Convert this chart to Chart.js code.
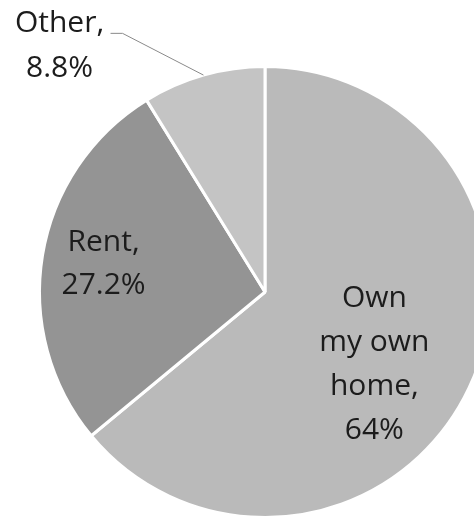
<!DOCTYPE html>
<html>
<head>
<meta charset="utf-8">
<script src="https://cdn.jsdelivr.net/npm/chart.js@4.4.1/dist/chart.umd.min.js"></script>
<style>
  html, body { margin: 0; padding: 0; background: #fff; overflow: hidden; }
  body { width: 474px; height: 516px; position: relative; }
  #pie { position: absolute; left: 0; top: 0; }
</style>
</head>
<body>
<canvas id="pie" width="530" height="560"></canvas>
<script>
const categories = ['Own my own home', 'Rent', 'Other'];
const shares     = [64, 27.2, 8.8];
const labelLines = [['Own', 'my own', 'home,', '64%'], ['Rent,', '27.2%'], ['Other,', '8.8%']];

const SLICE_COLORS = ['#bababa', '#949494', '#c4c4c4'];
const TEXT = '#1c1c1c';
const FONT = "30px 'Open Sans', sans-serif";

// label placement, as fractions of the outer radius from the pie centre
const LABEL_POS = [
    { dx: 0.485, dy: 0.067, lh: 44 },
    { dx: -0.716, dy: -0.182, lh: 43 },
    { dx: -0.911, dy: -1.151, lh: 45 }
];

const sliceLabels = {
    id: 'sliceLabels',
    afterDatasetsDraw(chart) {
        const ctx = chart.ctx;
        const arcs = chart.getDatasetMeta(0).data;
        ctx.save();
        ctx.font = FONT;
        ctx.fillStyle = TEXT;
        ctx.textAlign = 'center';
        ctx.textBaseline = 'alphabetic';
        arcs.forEach((arc, i) => {
            const p = LABEL_POS[i];
            const cx = arc.x + p.dx * arc.outerRadius;
            const cy = arc.y + p.dy * arc.outerRadius;
            labelLines[i].forEach((t, k) => ctx.fillText(t, cx, cy + k * p.lh));
        });

        // leader line for the small slice
        const other = arcs[2];
        const mid = (other.startAngle + other.endAngle) / 2;
        const ex = other.x + Math.cos(mid) * other.outerRadius;
        const ey = other.y + Math.sin(mid) * other.outerRadius;
        const sx = other.x - 0.685 * other.outerRadius;
        const sy = other.y - 1.147 * other.outerRadius;
        ctx.strokeStyle = '#8a8a8a';
        ctx.lineWidth = 1;
        ctx.beginPath();
        ctx.moveTo(sx, sy);
        ctx.lineTo(sx + 12, sy);
        ctx.lineTo(ex, ey);
        ctx.stroke();
        ctx.restore();
    }
};

new Chart(document.getElementById('pie').getContext('2d'), {
    type: 'pie',
    data: {
        labels: categories,
        datasets: [{
            data: shares,
            backgroundColor: SLICE_COLORS,
            borderColor: '#ffffff',
            borderWidth: 3
        }]
    },
    options: {
        responsive: false,
        animation: false,
        layout: { padding: { left: 38, top: 65, right: 38, bottom: 41 } },
        plugins: {
            legend: { display: false },
            tooltip: { enabled: false }
        }
    },
    plugins: [sliceLabels]
});
</script>
</body>
</html>
